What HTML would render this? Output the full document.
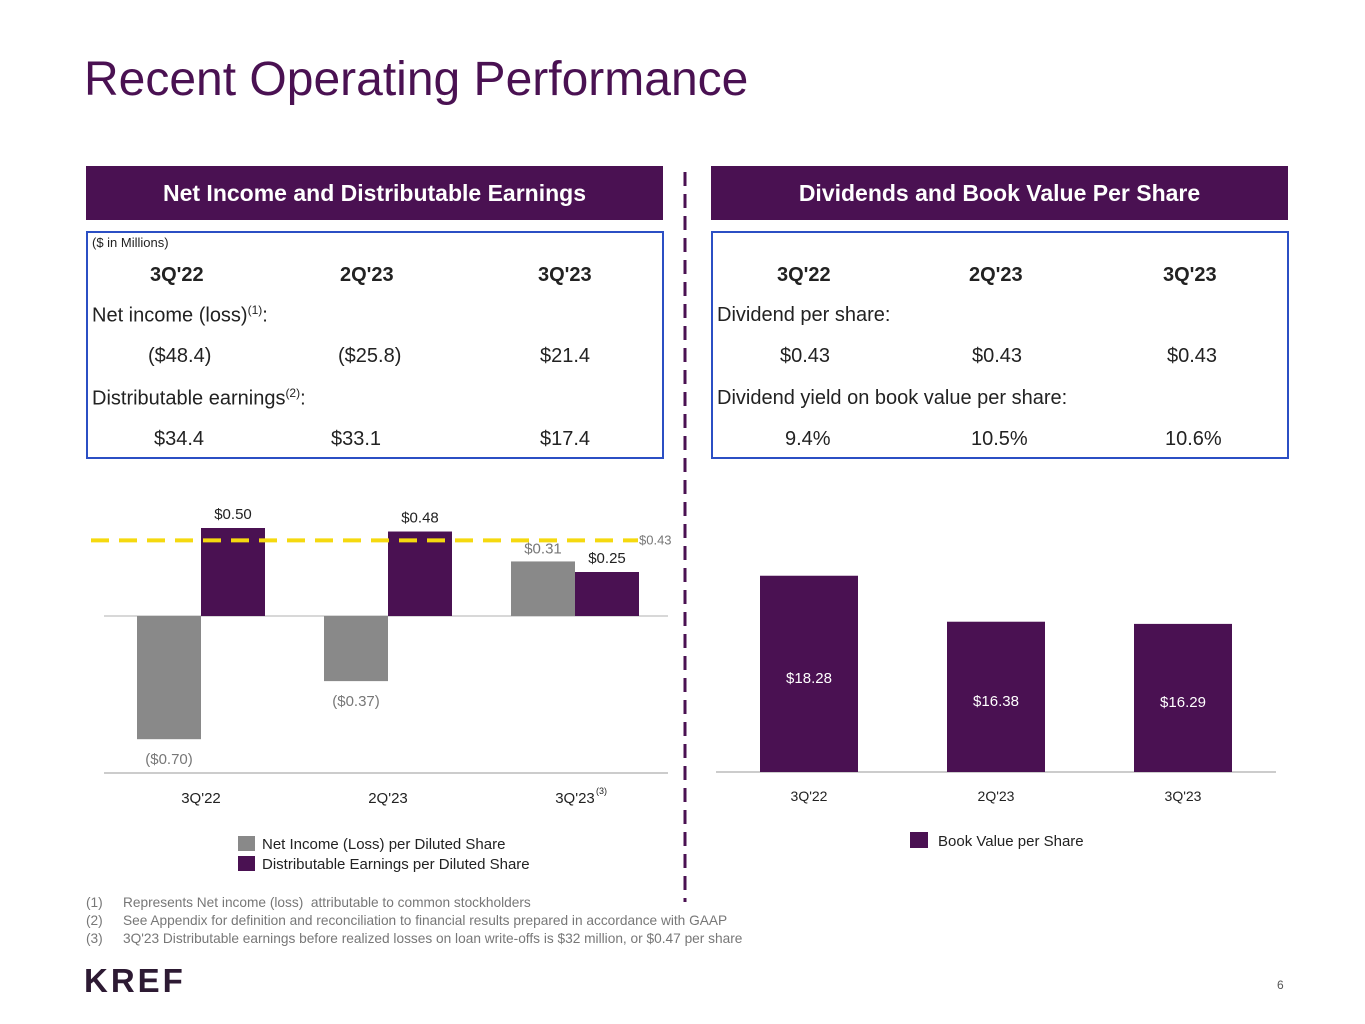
<!DOCTYPE html>
<html><head><meta charset="utf-8"><style>
body{margin:0;width:1365px;height:1024px;background:#fff;position:relative;font-family:"Liberation Sans",sans-serif;overflow:hidden}
.a{position:absolute}
.hdr{position:absolute;top:166px;height:54px;background:#4a1152;color:#fff;font-weight:bold;font-size:23px;text-align:center;line-height:54px}
.box{position:absolute;top:231px;height:228px;border:2px solid #2b4fc4;box-sizing:border-box;width:578px}
.t{position:absolute;font-size:20px;color:#222;white-space:nowrap}
.b{font-weight:bold}
sup{font-size:12px}
</style></head><body>
<div class="a" style="left:84px;top:52px;font-size:48px;color:#4a1152">Recent Operating Performance</div>

<div class="hdr" style="left:86px;width:577px">Net Income and Distributable Earnings</div>
<div class="hdr" style="left:711px;width:577px">Dividends and Book Value Per Share</div>

<div class="box" style="left:86px">
 <div class="t" style="left:4px;top:2px;font-size:13px">($ in Millions)</div>
 <div class="t b" style="left:62px;top:31px">3Q'22</div>
 <div class="t b" style="left:252px;top:31px">2Q'23</div>
 <div class="t b" style="left:450px;top:31px">3Q'23</div>
 <div class="t" style="left:4px;top:70px">Net income (loss)<sup>(1)</sup>:</div>
 <div class="t" style="left:60px;top:112px">($48.4)</div>
 <div class="t" style="left:250px;top:112px">($25.8)</div>
 <div class="t" style="left:452px;top:112px">$21.4</div>
 <div class="t" style="left:4px;top:153px">Distributable earnings<sup>(2)</sup>:</div>
 <div class="t" style="left:66px;top:195px">$34.4</div>
 <div class="t" style="left:243px;top:195px">$33.1</div>
 <div class="t" style="left:452px;top:195px">$17.4</div>
</div>
<div class="box" style="left:711px">
 <div class="t b" style="left:64px;top:31px">3Q'22</div>
 <div class="t b" style="left:256px;top:31px">2Q'23</div>
 <div class="t b" style="left:450px;top:31px">3Q'23</div>
 <div class="t" style="left:4px;top:71px">Dividend per share:</div>
 <div class="t" style="left:67px;top:112px">$0.43</div>
 <div class="t" style="left:259px;top:112px">$0.43</div>
 <div class="t" style="left:454px;top:112px">$0.43</div>
 <div class="t" style="left:4px;top:154px">Dividend yield on book value per share:</div>
 <div class="t" style="left:72px;top:195px">9.4%</div>
 <div class="t" style="left:258px;top:195px">10.5%</div>
 <div class="t" style="left:452px;top:195px">10.6%</div>
</div>

<svg class="a" style="left:0;top:0" width="1365" height="1024" id="svg">
 <line x1="685" y1="172" x2="685" y2="902" stroke="#4a1152" stroke-width="3" stroke-dasharray="14,8"/>
 <g id="left"></g><g id="right"></g>
</svg>

<div class="a" style="left:238px;top:835px;font-size:15px;color:#222;line-height:20px">
 <div><span style="display:inline-block;width:17px;height:15px;background:#898989;vertical-align:-2px;margin-right:7px"></span>Net Income (Loss) per Diluted Share</div>
 <div><span style="display:inline-block;width:17px;height:15px;background:#4a1152;vertical-align:-2px;margin-right:7px"></span>Distributable Earnings per Diluted Share</div>
</div>
<div class="a" style="left:910px;top:832px;font-size:15px;color:#222">
 <span style="display:inline-block;width:18px;height:16px;background:#4a1152;vertical-align:-2px;margin-right:10px"></span>Book Value per Share</div>

<div class="a" style="left:86px;top:894px;font-size:13.7px;color:#777;line-height:18px">
 <div><span style="display:inline-block;width:37px">(1)</span>Represents Net income (loss)&nbsp; attributable to common stockholders</div>
 <div><span style="display:inline-block;width:37px">(2)</span>See Appendix for definition and reconciliation to financial results prepared in accordance with GAAP</div>
 <div><span style="display:inline-block;width:37px">(3)</span>3Q'23 Distributable earnings before realized losses on loan write-offs is $32 million, or $0.47 per share</div>
</div>
<div class="a" style="left:84px;top:962px;font-size:33px;font-weight:bold;color:#2d1a33;letter-spacing:3px">KREF</div>
<div class="a" style="left:1277px;top:978px;font-size:12px;color:#555">6</div>

<script>
const cats=["3Q'22","2Q'23","3Q'23"];
const netIncome=[-0.70,-0.37,0.31];
const distEarnings=[0.50,0.48,0.25];
const niLabels=["($0.70)","($0.37)","$0.31"];
const deLabels=["$0.50","$0.48","$0.25"];
const dividend=0.43;
const bookValue=[18.28,16.38,16.29];
const bvLabels=["$18.28","$16.38","$16.29"];
const NS="http://www.w3.org/2000/svg";
function mk(p,tag,at,txt){const e=document.createElementNS(NS,tag);for(const k in at)e.setAttribute(k,at[k]);if(txt!=null)e.textContent=txt;p.appendChild(e);return e;}
const L=document.getElementById('left');
const y0=616,ys=176;
const yL=v=>y0-v*ys;
const gx=i=>201+i*187;
mk(L,'line',{x1:104,y1:y0,x2:668,y2:y0,stroke:'#ccc','stroke-width':1.5});
mk(L,'line',{x1:104,y1:773,x2:668,y2:773,stroke:'#bbb','stroke-width':1.5});
cats.forEach((c,i)=>{
 const x=gx(i),n=netIncome[i],d=distEarnings[i];
 const g=mk(L,'rect',{x:x-64,y:Math.min(yL(n),y0),width:64,height:Math.abs(yL(n)-y0),fill:'#898989'});
 
 
 const p=mk(L,'rect',{x:x,y:Math.min(yL(d),y0),width:64,height:Math.abs(yL(d)-y0),fill:'#4a1152'});
 
 
 const ny=n<0?yL(n)+25:yL(n)-8;
 mk(L,'text',{x:x-32,y:ny,'text-anchor':'middle','font-size':15,fill:'#777'},niLabels[i]);
 mk(L,'text',{x:x+32,y:yL(d)-9,'text-anchor':'middle','font-size':15,fill:'#222'},deLabels[i]);
 mk(L,'text',{x:x,y:803,'text-anchor':'middle','font-size':15,fill:'#222'},c);
 if(i==2)mk(L,'text',{x:x+21,y:794,'font-size':9,fill:'#222'},'(3)');
});
const dl=mk(L,'line',{x1:91,y1:yL(dividend),x2:638,y2:yL(dividend),stroke:'#f5d90f','stroke-width':4,'stroke-dasharray':'18,10'});


mk(L,'text',{x:639,y:yL(dividend)+4,'font-size':13,fill:'#777'},'$0.43');

const R=document.getElementById('right');
const rb=772,rmin=10.17,rs=24.2;
const yR=v=>rb-(v-rmin)*rs;
mk(R,'line',{x1:716,y1:rb,x2:1276,y2:rb,stroke:'#bbb','stroke-width':1.5});
cats.forEach((c,i)=>{
 const cx=809+i*187;
 const r=mk(R,'rect',{x:cx-49,y:yR(bookValue[i]),width:98,height:rb-yR(bookValue[i]),fill:'#4a1152'});
 
 
 mk(R,'text',{x:cx,y:(yR(bookValue[i])+rb)/2+9,'text-anchor':'middle','font-size':15,fill:'#fff'},bvLabels[i]);
 mk(R,'text',{x:cx,y:801,'text-anchor':'middle','font-size':14,fill:'#222'},c);
});
</script>
</body></html>
